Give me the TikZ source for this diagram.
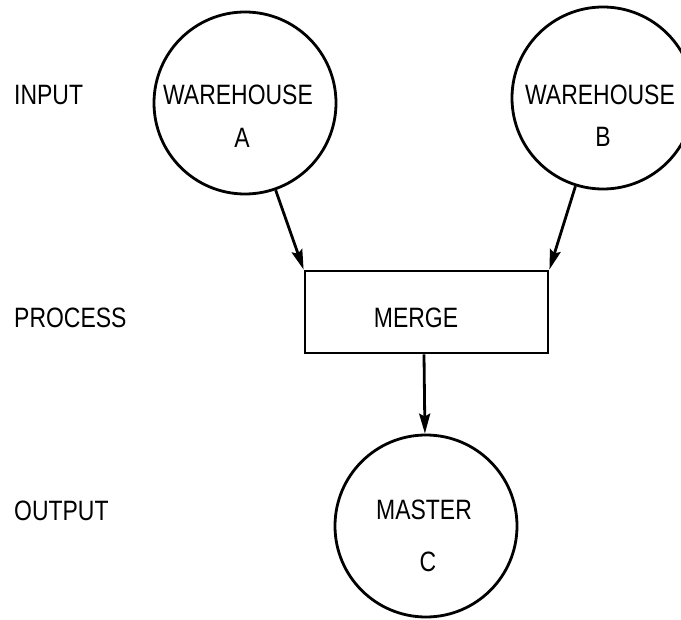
\documentclass[tikz,border=0pt]{standalone}
\usepackage{fontspec}
\setmainfont{Liberation Sans}
\usetikzlibrary{arrows.meta}
\tikzset{
  ring/.style={draw, circle, line width=2.8pt, minimum size=182pt, inner sep=0pt},
  procbox/.style={draw, rectangle, line width=2.8pt, minimum width=243pt, minimum height=82pt, inner sep=0pt},
  txt/.style={inner sep=0pt, font=\fontsize{28}{34}\selectfont},
  flow/.style={line width=2.8pt, -{Stealth[length=20pt, width=11pt, inset=3pt]}}
}
\newcommand{\sq}[1]{\scalebox{0.82}[1]{#1}}
\begin{document}
\begin{tikzpicture}[x=1pt,y=-1pt]
\useasboundingbox (0,0) rectangle (681,620);
\node[ring] (A) at (245,103) {};
\node[ring] (B) at (603,98) {};
\node[ring] (C) at (426,526) {};
\node[procbox] (M) at (426.5,312) {};
% labels
\node[txt, anchor=base west] (lin) at (14,105) {\sq{INPUT}};
\node[txt, anchor=base west] (lpr) at (14,328) {\sq{PROCESS}};
\node[txt, anchor=base west] (lout) at (14,521) {\sq{OUTPUT}};
\node[txt, anchor=base] (ta1) at (238,105) {\sq{WAREHOUSE}};
\node[txt, anchor=base] (ta2) at (242,148) {\sq{A}};
\node[txt, anchor=base] (tb1) at (600,105) {\sq{WAREHOUSE}};
\node[txt, anchor=base] (tb2) at (603,147) {\sq{B}};
\node[txt, anchor=base] (tm) at (416,328) {\sq{MERGE}};
\node[txt, anchor=base] (tc1) at (424,520) {\sq{MASTER}};
\node[txt, anchor=base] (tc2) at (428,572) {\sq{C}};
% connectors
\draw[flow] (A) -- (M.north west);
\draw[flow] (B) -- (M.north east);
\draw[flow] (M.south -| tc1) -- (C);
\end{tikzpicture}
\end{document}
